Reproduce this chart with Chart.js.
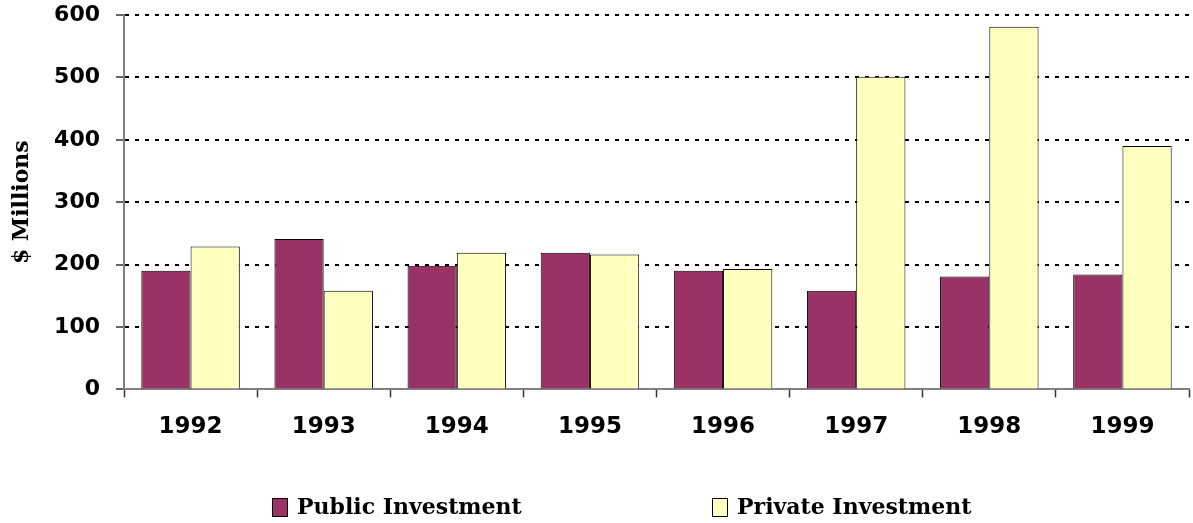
<!DOCTYPE html>
<html>
<head>
<meta charset="utf-8">
<script src="https://cdn.jsdelivr.net/npm/chart.js@4"></script>
<style>
  html, body { margin: 0; padding: 0; background: #fff; }
  #wrap { width: 1193px; height: 523px; }
</style>
</head>
<body>
<div id="wrap"><canvas id="canvas"></canvas></div>
<script>
var years = ['1992', '1993', '1994', '1995', '1996', '1997', '1998', '1999'];
var publicInvestment = [190, 241, 198, 219, 190, 158, 181, 184];
var privateInvestment = [229, 158, 219, 216, 193, 501, 581, 390];
var yTicks = [0, 100, 200, 300, 400, 500, 600];

// legend drawn by hand so the two items can sit far apart like the original
var bottomLegend = {
    id: 'bottomLegend',
    afterDraw: function(chart){
        var ctx = chart.ctx;
        var xs = [272, 712];
        ctx.save();
        ctx.font = 'bold 22px "DejaVu Serif"';
        ctx.textBaseline = 'middle';
        chart.data.datasets.forEach(function(ds, i){
            var x = xs[i];
            ctx.fillStyle = ds.backgroundColor;
            ctx.fillRect(x, 498, 15, 18);
            ctx.strokeStyle = '#000';
            ctx.lineWidth = 1;
            ctx.strokeRect(x + 0.5, 498.5, 15, 18);
            ctx.fillStyle = '#000';
            ctx.fillText(ds.label, x + 25, 508);
        });
        ctx.restore();
    }
};

var ctx = document.getElementById('canvas').getContext('2d');
window.investChart = new Chart(ctx, {
    type: 'bar',
    data: {
        labels: years,
        datasets: [{
            label: 'Public Investment',
            data: publicInvestment,
            backgroundColor: '#993366',
            borderColor: '#000',
            borderWidth: 1
        }, {
            label: 'Private Investment',
            data: privateInvestment,
            backgroundColor: '#FFFFC0',
            borderColor: '#000',
            borderWidth: 1
        }]
    },
    options: {
        responsive: true,
        maintainAspectRatio: false,
        animation: false,
        layout: { padding: { top: 15, right: 4, bottom: 66, left: 0 } },
        datasets: { bar: { barPercentage: 1, categoryPercentage: 0.74 } },
        plugins: {
            legend: { display: false },
            tooltip: { enabled: false }
        },
        scales: {
            x: {
                grid: {
                    display: true,
                    offset: true,
                    drawOnChartArea: false,
                    drawTicks: true,
                    tickLength: 8,
                    tickColor: '#333',
                    tickWidth: 1.5
                },
                border: { display: true, color: '#808080', width: 2 },
                ticks: {
                    color: '#000',
                    padding: 16,
                    maxRotation: 0,
                    font: { family: '"DejaVu Sans"', size: 23, weight: 'bold' }
                }
            },
            y: {
                min: 0,
                max: 600,
                afterFit: function(scale){
                    scale.width = 124;
                    scale.paddingTop = 0;
                    scale.paddingBottom = 0;
                },
                afterBuildTicks: function(scale){
                    scale.ticks = yTicks.map(function(v){ return { value: v }; });
                },
                grid: {
                    color: '#000',
                    lineWidth: 2,
                    drawTicks: true,
                    tickLength: 8,
                    tickColor: '#333',
                    tickWidth: 1.5,
                    tickBorderDash: []
                },
                border: { display: true, color: '#808080', width: 2, dash: [4, 6], dashOffset: -10 },
                ticks: {
                    color: '#000',
                    padding: 16,
                    font: { family: '"DejaVu Sans"', size: 22, weight: 'bold' }
                },
                title: {
                    display: true,
                    text: '$ Millions',
                    color: '#000',
                    padding: { top: 9, bottom: 0 },
                    font: { family: '"DejaVu Serif"', size: 22, weight: 'bold' }
                }
            }
        }
    },
    plugins: [bottomLegend]
});
</script>
</body>
</html>
